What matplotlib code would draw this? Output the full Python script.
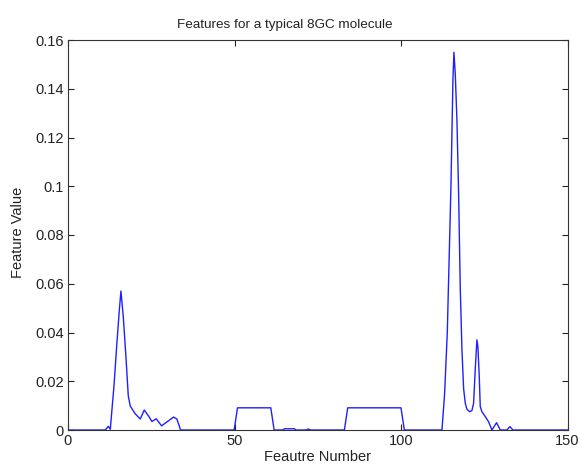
import matplotlib
matplotlib.use('Agg')
import matplotlib.pyplot as plt

#------------ data input --------------------
feature = [0, 11.2, 12.1, 12.7, 13.8, 14.6, 15.4, 15.9, 16.6, 17.4, 18.1, 18.7,
           20.1, 21.7, 22.9, 24.3, 25.2, 26.5, 28.1, 29.7, 31.7, 32.7, 33.8,
           49.9, 50.9, 60.9, 61.9, 64.5, 65, 68, 68.5, 71.5, 72.2, 72.8,
           83, 84, 100, 101,
           112.3, 113.1, 113.9, 114.6, 115.0, 115.6, 115.9, 116.3, 116.8, 117.3,
           117.8, 118.3, 118.8, 119.3, 119.8, 120.6, 121.3, 121.8, 122.3, 122.8,
           123.1, 123.5, 123.8, 124.3, 125.3, 126.3, 127.3, 128.7, 129.8, 131.8,
           132.7, 133.6, 150]
value = [0, 0, 0.0015, 0.0003, 0.018, 0.034, 0.049, 0.057, 0.0465, 0.030, 0.014, 0.0098,
         0.0068, 0.0045, 0.0082, 0.0055, 0.0035, 0.0046, 0.0017, 0.0033, 0.0053, 0.0045, 0,
         0, 0.0091, 0.0091, 0, 0, 0.0005, 0.0005, 0, 0, 0.0004, 0,
         0, 0.0091, 0.0091, 0,
         0, 0.015, 0.04, 0.078, 0.10, 0.144, 0.155, 0.146, 0.127, 0.097,
         0.058, 0.033, 0.017, 0.011, 0.0085, 0.0075, 0.008, 0.011, 0.025, 0.037,
         0.034, 0.022, 0.0096, 0.0075, 0.0055, 0.0034, 0, 0.003, 0, 0,
         0.0014, 0, 0]

xticks = [0, 50, 100, 150]
yticks = [0, 0.02, 0.04, 0.06, 0.08, 0.1, 0.12, 0.14, 0.16]
ytick_labels = ['0', '0.02', '0.04', '0.06', '0.08', '0.1', '0.12', '0.14', '0.16']

#------------ plot --------------------
plt.rcParams['font.family'] = ['Liberation Sans', 'DejaVu Sans']
plt.rcParams['font.size'] = 10.5

fig = plt.figure(figsize=(5.8, 4.67), dpi=100)
ax = fig.add_axes([68/580, 37/467, 499.5/580, 390/467])
ax.plot(feature, value, color='#1f1fff', linewidth=1.0)
ax.set_xlim(0, 150)
ax.set_ylim(0, 0.16)
ax.set_xticks(xticks)
ax.set_yticks(yticks)
ax.set_yticklabels(ytick_labels)
ax.tick_params(direction='in', top=True, right=True, length=4, width=0.8, pad=3,
               labelsize=10.5, colors='#222222')
for s in ax.spines.values():
    s.set_linewidth(0.8)
    s.set_color('#333333')

# title sits left of centre in the original
fig.text(285/580, 1 - 28/467, 'Features for a typical 8GC molecule',
         ha='center', va='baseline', fontsize=9.7, color='#222222')
ax.set_xlabel('Feautre Number', color='#222222')
ax.xaxis.set_label_coords(0.5, (430 - 450) / 390)
ax.set_ylabel('Feature Value', color='#222222')
ax.yaxis.set_label_coords((25 - 68) / 499.5, (430 - 232) / 390)

plt.savefig('out.png', dpi=100)
